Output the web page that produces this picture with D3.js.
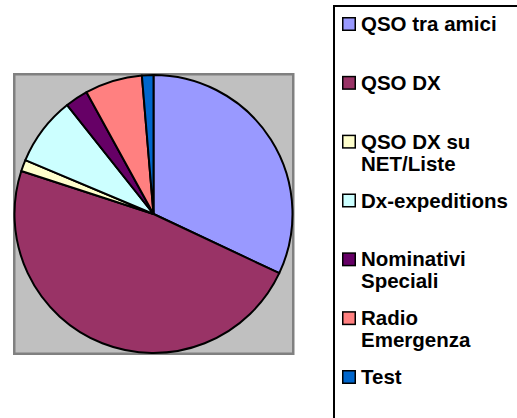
<!DOCTYPE html>
<html>
<head>
<meta charset="utf-8">
<script src="https://cdn.jsdelivr.net/npm/d3@7"></script>
<style>
  body { margin: 0; background: #fff; }
  text { font-family: "Liberation Sans", Arial, sans-serif; font-weight: bold; }
</style>
</head>
<body>
<script>
// categories, counts and colours (Excel default palette)
var categories = ["QSO tra amici", "QSO DX", "QSO DX su NET/Liste", "Dx-expeditions",
  "Nominativi Speciali", "Radio Emergenza", "Test"];
var labelLines = [["QSO tra amici"], ["QSO DX"], ["QSO DX su", "NET/Liste"], ["Dx-expeditions"],
  ["Nominativi", "Speciali"], ["Radio", "Emergenza"], ["Test"]];
var values = [24, 36, 1, 6, 2, 5, 1];
var colors = ["#9999ff", "#993366", "#ffffcc", "#ccffff", "#660066", "#ff8080", "#0066cc"];

var width = 517;
var height = 418;

var svg = d3.select("body").append("svg")
  .attr("width", width)
  .attr("height", height);

// plot area
svg.append("rect")
  .attr("x", 14.25).attr("y", 74.25)
  .attr("width", 279).attr("height", 279.5)
  .attr("fill", "#c0c0c0")
  .attr("stroke", "#808080")
  .attr("stroke-width", 2.5);

var cx = 153.5, cy = 214, r = 139;

var pie = d3.pie().sort(null).value(function(d) { return d; });
var arc = d3.arc().innerRadius(0).outerRadius(r);

var color = d3.scaleOrdinal().domain(categories).range(colors);

svg.append("g")
  .attr("transform", "translate(" + cx + "," + cy + ")")
  .selectAll("path")
  .data(pie(values))
  .enter()
  .append("path")
  .attr("d", arc)
  .attr("fill", function(d, i) { return color(categories[i]); })
  .attr("stroke", "#000")
  .attr("stroke-width", 2)
  .attr("stroke-linejoin", "round");

// legend
svg.append("rect")
  .attr("x", 334).attr("y", 6)
  .attr("width", 300).attr("height", 500)
  .attr("fill", "#fff")
  .attr("stroke", "#000")
  .attr("stroke-width", 2);

var ly = d3.scaleLinear().domain([0, categories.length - 1]).range([31, 384]);

var item = svg.append("g").selectAll("g")
  .data(categories)
  .enter()
  .append("g")
  .attr("transform", function(d, i) { return "translate(0," + ly(i) + ")"; });

item.append("rect")
  .attr("x", 342.75).attr("y", -13.25)
  .attr("width", 12.5).attr("height", 12.5)
  .attr("fill", function(d) { return color(d); })
  .attr("stroke", "#000")
  .attr("stroke-width", 1.5);

item.append("text")
  .attr("x", 361)
  .attr("y", 0)
  .style("font-size", "20.5px")
  .attr("fill", "#000")
  .selectAll("tspan")
  .data(function(d, i) { return labelLines[i]; })
  .enter()
  .append("tspan")
  .attr("x", 361)
  .attr("dy", function(d, j) { return j === 0 ? 0 : 22; })
  .text(function(d) { return d; });
</script>
</body>
</html>
